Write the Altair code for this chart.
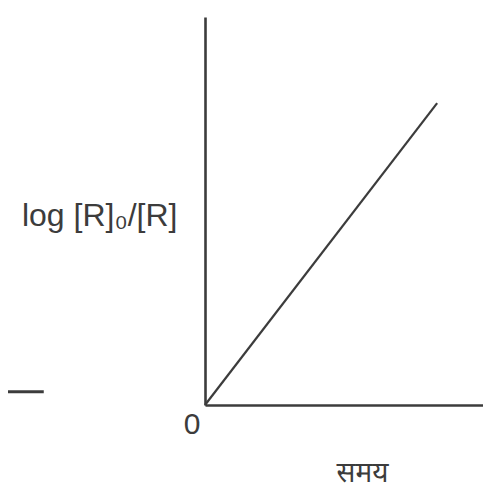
import altair as alt
import pandas as pd

# data
times = [0.0, 8.35]
log_ratio = [0.0, 7.78]
stray_x = [-7.4, -5.8]
stray_y = [0.34, 0.34]

FONT = "Liberation Sans, Arial, sans-serif"
INK = "#3c3c3c"

main = pd.DataFrame({"t": times, "v": log_ratio})
stray = pd.DataFrame({"t": stray_x, "v": stray_y})

xs = alt.Scale(domain=[0, 10], nice=False, zero=False)
ys = alt.Scale(domain=[0, 10], nice=False, zero=False)

line = alt.Chart(main).mark_line(color=INK, strokeWidth=2.2, clip=False).encode(
    x=alt.X("t:Q", scale=xs, axis=alt.Axis(
        title="समय", values=[0], grid=False, ticks=False,
        domain=True, domainColor=INK, domainWidth=2.6,
        labelFont=FONT, labelFontSize=30, labelColor=INK,
        labelAlign="right", labelBaseline="top", labelOffset=-5, labelPadding=4,
        titleFont="Noto Sans, sans-serif", titleFontSize=28, titleFontWeight="normal",
        titleColor=INK, titleX=157, titleY=54, titleAlign="center", titleBaseline="top")),
    y=alt.Y("v:Q", scale=ys, axis=alt.Axis(
        title="log [R]₀/[R]", labels=False, grid=False, ticks=False,
        domain=True, domainColor=INK, domainWidth=2.6,
        titleFont=FONT, titleFontSize=32, titleFontWeight="normal", titleColor=INK,
        titleAngle=0, titleAlign="right", titleBaseline="alphabetic",
        titleX=-28, titleY=208)),
)

stray_line = alt.Chart(stray).mark_line(color=INK, strokeWidth=3, clip=False).encode(
    x=alt.X("t:Q", scale=xs),
    y=alt.Y("v:Q", scale=ys),
)

chart = alt.layer(line, stray_line).properties(
    width=278, height=388,
    autosize=alt.AutoSizeParams(type="none"),
    padding={"left": 197, "top": 9, "right": 0, "bottom": 86},
    background="white",
).configure_view(stroke=None)

chart.save("out.html", embed_options={"renderer": "svg", "actions": False})
